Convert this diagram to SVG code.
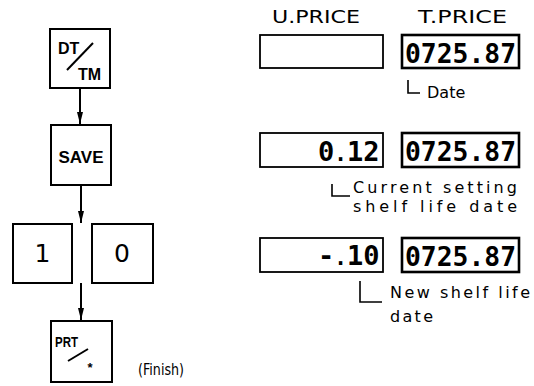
<svg xmlns="http://www.w3.org/2000/svg" width="534" height="386" viewBox="0 0 534 386">
<style>
.key{fill:#fff;stroke:#000;stroke-width:2}
.disp{fill:#fff;stroke:#000;stroke-width:1.8}
.dispT{fill:#fff;stroke:#000;stroke-width:2.6}
.conn{stroke:#000;stroke-width:2;fill:none}
.brk{stroke:#000;stroke-width:1.6;fill:none}
.kt{font-family:"Liberation Sans",Arial,sans-serif;font-weight:bold;fill:#000}
.lbl{font-family:"DejaVu Sans","Liberation Sans",sans-serif;fill:#000}
.lcd{font-family:"DejaVu Sans Mono","Liberation Mono",monospace;font-weight:bold;font-size:27px;fill:#000}
.dot{font-size:21px}
</style>
<defs>
<marker id="ah" viewBox="0 0 12 6" refX="12" refY="3" markerWidth="12" markerHeight="6" markerUnits="userSpaceOnUse" orient="auto">
<path d="M0,0 L12,3 L0,6 z" fill="#000"/>
</marker>
</defs>
<g id="connectors">
<path class="conn" d="M80,88 L80,124" marker-end="url(#ah)"/>
<path class="conn" d="M81,185 L81,223" marker-end="url(#ah)"/>
<path class="conn" d="M81,283 L81,320" marker-end="url(#ah)"/>
</g>
<g id="key-dttm">
<rect class="key" x="50" y="29" width="60" height="59"/>
<text class="kt" x="58" y="54" font-size="16">DT</text>
<line x1="67" y1="70" x2="93" y2="43" stroke="#000" stroke-width="2"/>
<text class="kt" x="78" y="80" font-size="16">TM</text>
</g>
<g id="key-save">
<rect class="key" x="51" y="125" width="60" height="60"/>
<text class="kt" x="81" y="163" font-size="17" text-anchor="middle">SAVE</text>
</g>
<g id="key-1">
<rect class="key" x="13" y="224" width="59" height="59"/>
<text class="lbl" x="42.5" y="262" font-size="25" text-anchor="middle">1</text>
</g>
<g id="key-0">
<rect class="key" x="92" y="224" width="61" height="59"/>
<text class="lbl" x="122" y="262" font-size="25" text-anchor="middle">0</text>
</g>
<g id="key-prt">
<rect class="key" x="51" y="321" width="61" height="61"/>
<text class="kt" x="55" y="347" font-size="14" textLength="23" lengthAdjust="spacingAndGlyphs">PRT</text>
<line x1="68" y1="361" x2="88" y2="349" stroke="#000" stroke-width="2"/>
<text class="kt" x="90" y="372" font-size="13" text-anchor="middle">*</text>
</g>
<g id="finish">
<text class="lbl" x="138" y="375" font-size="15" textLength="46" lengthAdjust="spacingAndGlyphs">(Finish)</text>
</g>
<g id="headers">
<text class="lbl" x="272" y="23" font-size="17" textLength="88" lengthAdjust="spacingAndGlyphs">U.PRICE</text>
<text class="lbl" x="418" y="23" font-size="17" textLength="89" lengthAdjust="spacingAndGlyphs">T.PRICE</text>
</g>
<g id="row1">
<rect class="disp" x="260" y="35" width="123" height="33"/>
<rect class="dispT" x="402" y="35" width="117" height="33"/>
<text class="lcd" x="405" y="63" textLength="111" lengthAdjust="spacingAndGlyphs">0725.87</text>
<path class="brk" d="M408,80 L408,93 L420,93"/>
<text class="lbl" x="427" y="98" font-size="16">Date</text>
</g>
<g id="row2">
<rect class="disp" x="260" y="133" width="123" height="34"/>
<text class="lcd" x="318" y="161">0<tspan class="dot">.</tspan>12</text>
<rect class="dispT" x="402" y="133" width="117" height="34"/>
<text class="lcd" x="405" y="161" textLength="111" lengthAdjust="spacingAndGlyphs">0725.87</text>
<path class="brk" d="M332,184 L332,196 L350,196"/>
<text class="lbl" x="353" y="193" font-size="16" textLength="164" lengthAdjust="spacing">Current setting</text>
<text class="lbl" x="353" y="212" font-size="16" textLength="164" lengthAdjust="spacing">shelf life date</text>
</g>
<g id="row3">
<rect class="disp" x="260" y="238" width="123" height="34"/>
<text class="lcd" x="318" y="265">-<tspan class="dot">.</tspan>10</text>
<rect class="dispT" x="402" y="238" width="117" height="34"/>
<text class="lcd" x="405" y="266" textLength="111" lengthAdjust="spacingAndGlyphs">0725.87</text>
<path class="brk" d="M360,281 L360,302 L382,302"/>
<text class="lbl" x="390" y="298" font-size="16" textLength="140" lengthAdjust="spacing">New shelf life</text>
<text class="lbl" x="390" y="322" font-size="16" textLength="43" lengthAdjust="spacing">date</text>
</g>
</svg>
